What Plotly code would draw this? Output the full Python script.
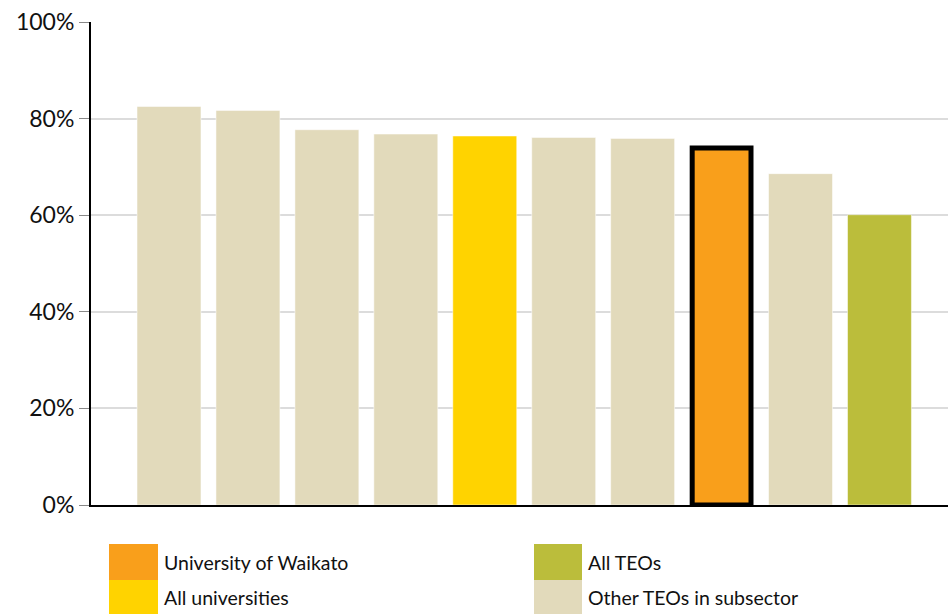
import plotly.graph_objects as go

categories = ["TEO A", "TEO B", "TEO C", "TEO D", "All universities", "TEO E",
              "TEO F", "University of Waikato", "TEO G", "All TEOs"]
values = [82.5, 81.7, 77.7, 76.8, 76.4, 76.1, 75.9, 73.9, 68.6, 60.1]
groups = ["Other TEOs in subsector"] * 4 + ["All universities"] + ["Other TEOs in subsector"] * 2 + \
         ["University of Waikato", "Other TEOs in subsector", "All TEOs"]
y_ticks = [0, 20, 40, 60, 80, 100]
y_tick_labels = ["0%", "20%", "40%", "60%", "80%", "100%"]

colors = {
    "University of Waikato": "#F99F1B",
    "All universities": "#FFD300",
    "All TEOs": "#BBBD3B",
    "Other TEOs in subsector": "#E2DABB",
}
legend_order = ["University of Waikato", "All universities", "All TEOs", "Other TEOs in subsector"]

W, H = 948, 614
L, R, T, B = 91, 0, 22, 109
pw, ph = W - L - R, H - T - B

bar_colors = [colors[g] for g in groups]
line_w = [5 if g == "University of Waikato" else 1 for g in groups]
line_c = ["#000000" if g == "University of Waikato" else "rgba(255,255,255,0.5)" for g in groups]
widths = [0.745 if g == "University of Waikato" else 0.81 for g in groups]

fig = go.Figure()
fig.add_trace(go.Bar(
    x=list(range(len(categories))), y=values, width=widths,
    marker=dict(color=bar_colors, line=dict(color=line_c, width=line_w)),
    hovertext=categories, showlegend=False,
))

def px_x(p):
    return (p - L) / pw

def px_y(p):
    return (H - B - p) / ph

shapes = []
annotations = []
legend_pos = {
    "University of Waikato": (109, 544, 158, 580),
    "All universities": (109, 580, 158, 614),
    "All TEOs": (534, 544, 582, 580),
    "Other TEOs in subsector": (534, 580, 582, 614),
}
for name in legend_order:
    x0, y0, x1, y1 = legend_pos[name]
    shapes.append(dict(type="rect", xref="paper", yref="paper",
                       x0=px_x(x0), x1=px_x(x1), y0=px_y(y1), y1=px_y(y0),
                       fillcolor=colors[name], line=dict(width=0), layer="above"))
    annotations.append(dict(xref="paper", yref="paper", x=px_x(x1 + 4), y=px_y((y0 + y1) / 2),
                            text=name, showarrow=False, xanchor="left", yanchor="middle",
                            font=dict(family="Lato", size=19.5, color="#111111")))

fig.update_layout(
    width=W, height=H,
    margin=dict(l=L, r=R, t=T, b=B, pad=0),
    plot_bgcolor="white", paper_bgcolor="white",
    bargap=0.19,
    xaxis=dict(range=[-0.988, 9.868], showticklabels=False, showgrid=False, zeroline=False,
               showline=True, linecolor="#000000", linewidth=2, ticks=""),
    yaxis=dict(range=[0, 100], tickvals=y_ticks, ticktext=y_tick_labels,
               showgrid=True, gridcolor="#DCDCDC", gridwidth=2, zeroline=False,
               showline=True, linecolor="#000000", linewidth=2,
               ticks="outside", ticklen=10, tickcolor="#888888", tickwidth=1,
               tickfont=dict(family="Lato", size=23, color="#111111")),
    shapes=shapes, annotations=annotations,
    font=dict(family="Lato"),
)

fig.write_html("out.html", config={"displayModeBar": False},
               post_script="document.body.style.margin='0';document.body.style.overflow='hidden';")
